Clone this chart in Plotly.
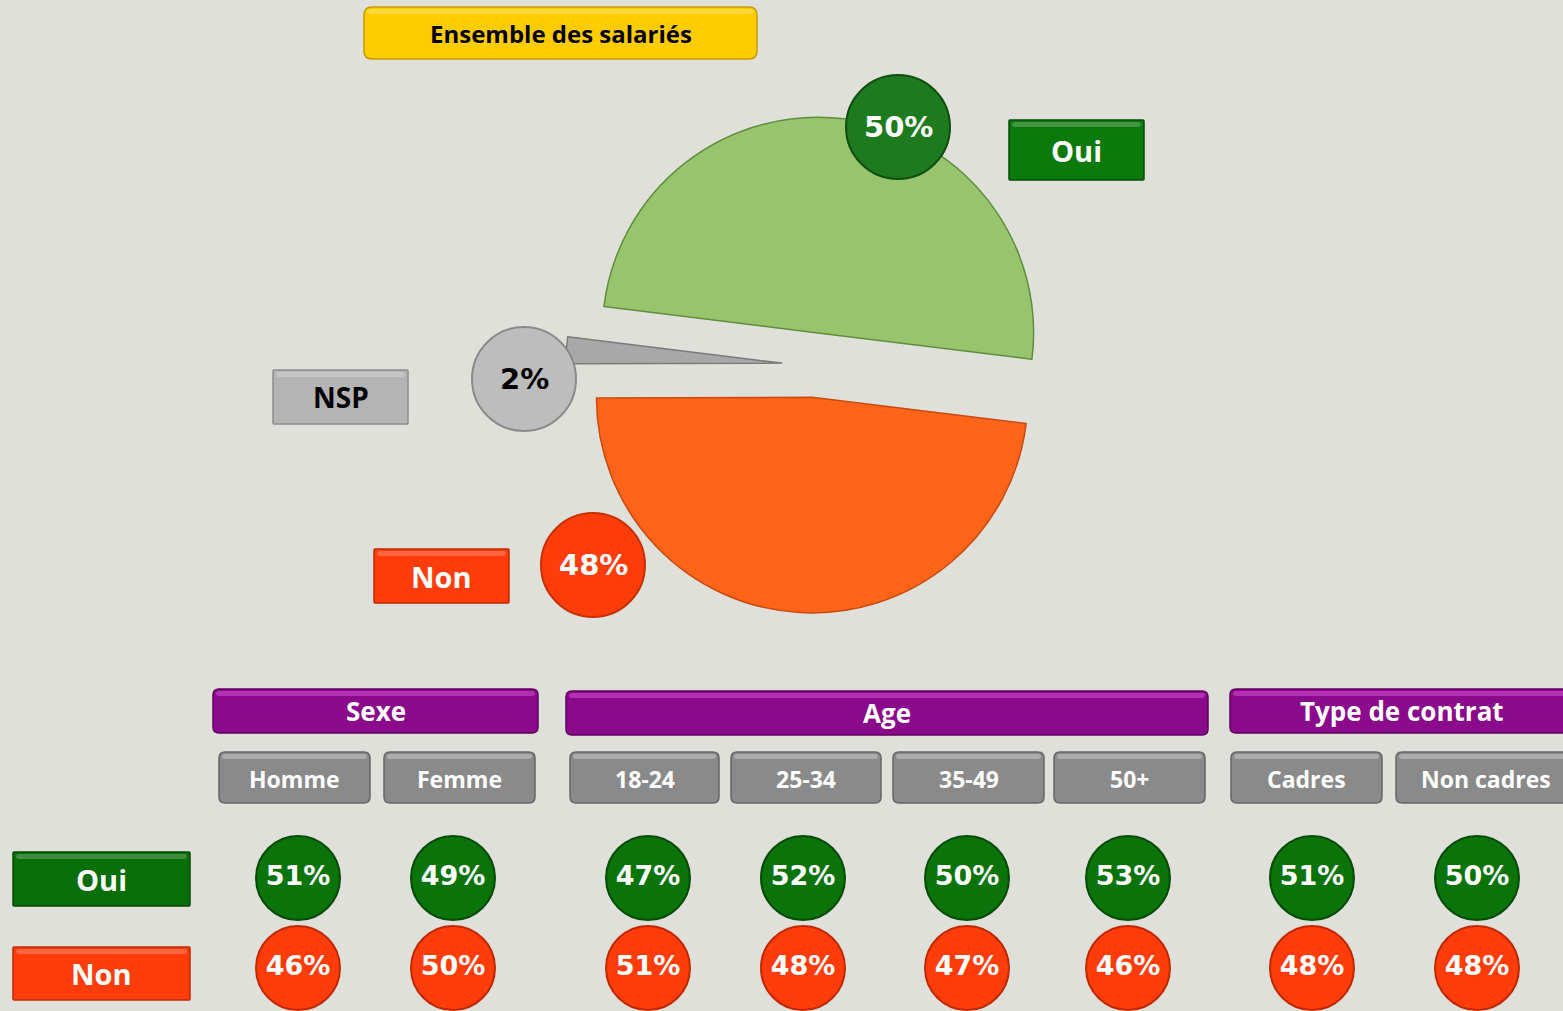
import plotly.graph_objects as go

# ---------------- data ----------------
overall_labels = ["Oui", "NSP", "Non"]
overall_values = [50, 2, 48]
title_text = "Ensemble des salariés"
groups = ["Sexe", "Age", "Type de contrat"]
subgroups = ["Homme", "Femme", "18-24", "25-34", "35-49", "50+", "Cadres", "Non cadres"]
row_labels = ["Oui", "Non"]
oui_values = [51, 49, 47, 52, 50, 53, 51, 50]
non_values = [46, 50, 51, 48, 47, 46, 48, 48]

# ---------------- style / layout ----------------
W, H = 1563, 1011
BG = "#e0e0db"
GREEN = "#0a730a"
GREEN_D = "#054a05"
ORANGE = "#ff3c0a"
ORANGE_D = "#c02800"
GRAY = "#8a8a8a"
PURPLE = "#8b0a8b"
FONT = "Open Sans"
PFONT = "DejaVu Sans"

group_boxes = [(213, 689, 538, 733), (566, 691, 1208, 735), (1230, 689, 1600, 733)]
sub_boxes = [(219, 752, 370, 803), (384, 752, 535, 803), (570, 752, 719, 803), (731, 752, 881, 803),
             (893, 752, 1044, 803), (1054, 752, 1205, 803), (1231, 752, 1382, 803), (1396, 752, 1600, 803)]
bubble_x = [298, 453, 648, 803, 967, 1128, 1312, 1477]
row_y = [878, 968]
PIE_CX, PIE_CY, PIE_HALF = 814, 365, 248


def rrect(x0, y0, x1, y1, r=6):
    return (f"M{x0+r},{y0} L{x1-r},{y0} Q{x1},{y0} {x1},{y0+r} L{x1},{y1-r} Q{x1},{y1} {x1-r},{y1} "
            f"L{x0+r},{y1} Q{x0},{y1} {x0},{y1-r} L{x0},{y0+r} Q{x0},{y0} {x0+r},{y0} Z")


shapes = []
annotations = []


def box(x0, y0, x1, y1, fill, line, text, tcolor="white", size=22, r=6, font=FONT, hl="rgba(255,255,255,0.22)"):
    shapes.append(dict(type="path", path=rrect(x0, y0, x1, y1, r), xref="x", yref="y",
                       fillcolor=fill, line=dict(color=line, width=1.5), layer="below"))
    shapes.append(dict(type="path", path=rrect(x0 + 3, y0 + 2, x1 - 3, y0 + 7, 3), xref="x", yref="y",
                       fillcolor=hl, line=dict(width=0), layer="below"))
    annotations.append(dict(x=(x0 + x1) / 2, y=(y0 + y1) / 2,
                            xref="x", yref="y", text=f"<b>{text}</b>", showarrow=False,
                            font=dict(family=font, size=size, color=tcolor)))


# title
box(364, 7, 757, 59, "#ffcc00", "#c89a00", title_text, "black", 24, r=8)
# pie legend boxes
box(1009, 120, 1144, 180, "#0b7a0b", GREEN_D, overall_labels[0], "white", 29, r=1)
box(273, 370, 408, 424, "#b4b4b4", "#8c8c8c", overall_labels[1], "black", 28, r=1)
box(374, 549, 509, 603, ORANGE, ORANGE_D, overall_labels[2], "white", 29, r=1)
# row labels
box(13, 852, 190, 906, "#086e08", GREEN_D, row_labels[0], "white", 29, r=1)
box(13, 947, 190, 1000, ORANGE, ORANGE_D, row_labels[1], "white", 29, r=1)

for g, b in zip(groups, group_boxes):
    x0, y0, x1, y1 = b
    shapes.append(dict(type="path", path=rrect(x0, y0, x1, y1, 6), xref="x", yref="y",
                       fillcolor=PURPLE, line=dict(color="#5e005e", width=1.5), layer="below"))
    shapes.append(dict(type="path", path=rrect(x0 + 3, y0 + 2, x1 - 3, y0 + 7, 3), xref="x", yref="y",
                       fillcolor="rgba(255,120,255,0.35)", line=dict(width=0), layer="below"))
    cx = (x0 + x1) / 2 if x1 <= W else 1402
    annotations.append(dict(x=cx, y=(y0 + y1) / 2, xref="x", yref="y", text=f"<b>{g}</b>",
                            showarrow=False, font=dict(family=FONT, size=26, color="white")))

for s, b in zip(subgroups, sub_boxes):
    x0, y0, x1, y1 = b
    shapes.append(dict(type="path", path=rrect(x0, y0, x1, y1, 6), xref="x", yref="y",
                       fillcolor=GRAY, line=dict(color="#666666", width=1.5), layer="below"))
    shapes.append(dict(type="path", path=rrect(x0 + 3, y0 + 2, x1 - 3, y0 + 7, 3), xref="x", yref="y",
                       fillcolor="rgba(255,255,255,0.3)", line=dict(width=0), layer="below"))
    cx = (x0 + x1) / 2 if x1 <= W else 1486
    annotations.append(dict(x=cx, y=(y0 + y1) / 2 + 1, xref="x", yref="y", text=f"<b>{s}</b>",
                            showarrow=False, font=dict(family=FONT, size=23, color="white")))

# big bubbles for the overall pie (drawn above the pie)
big = [(898, 127, "#1e7a1e", "#0e4e0e", "white"), (524, 379, "#bdbdbd", "#8a8a8a", "black"),
       (593, 565, "#ff3c0a", "#c83000", "white")]
for (cx, cy, fc, lc, tc), v in zip(big, overall_values):
    r = 52
    shapes.append(dict(type="circle", xref="x", yref="y", x0=cx - r, x1=cx + r, y0=cy - r, y1=cy + r,
                       fillcolor=fc, line=dict(color=lc, width=2), layer="above"))
    annotations.append(dict(x=cx, y=cy, xref="x", yref="y", text=f"<b>{v}%</b>", showarrow=False,
                            font=dict(family=PFONT, size=29, color=tc)))

fig = go.Figure()

fig.add_trace(go.Pie(
    labels=overall_labels, values=overall_values, sort=False, direction="counterclockwise",
    rotation=-83, pull=[0.15, 0.15, 0.15], textinfo="none", hoverinfo="label+value",
    showlegend=False,
    marker=dict(colors=["#98c46e", "#a8a8a8", "#ff6418"],
                line=dict(color=["#5f8f3c", "#7a7a7a", "#c84a10"], width=1.5)),
    domain=dict(x=[(PIE_CX - PIE_HALF) / W, (PIE_CX + PIE_HALF) / W],
                y=[(H - PIE_CY - PIE_HALF) / H, (H - PIE_CY + PIE_HALF) / H]),
))

fig.add_trace(go.Scatter(
    x=bubble_x, y=[row_y[0]] * len(oui_values), mode="markers+text",
    text=[f"<b>{v}%</b>" for v in oui_values], textposition="middle center",
    textfont=dict(family=PFONT, size=27, color="white"),
    marker=dict(size=84, color=GREEN, line=dict(color=GREEN_D, width=2)),
    showlegend=False, hoverinfo="text", cliponaxis=False,
))
fig.add_trace(go.Scatter(
    x=bubble_x, y=[row_y[1]] * len(non_values), mode="markers+text",
    text=[f"<b>{v}%</b>" for v in non_values], textposition="middle center",
    textfont=dict(family=PFONT, size=27, color="white"),
    marker=dict(size=84, color=ORANGE, line=dict(color=ORANGE_D, width=2)),
    showlegend=False, hoverinfo="text", cliponaxis=False,
))

fig.update_layout(
    width=W, height=H, margin=dict(l=0, r=0, t=0, b=0),
    paper_bgcolor=BG, plot_bgcolor=BG,
    xaxis=dict(range=[0, W], visible=False, fixedrange=True),
    yaxis=dict(range=[H, 0], visible=False, fixedrange=True),
    shapes=shapes, annotations=annotations,
)

fig.write_html("out.html", config={"displayModeBar": False},
               post_script="document.body.style.margin='0';document.body.style.overflow='hidden';")
